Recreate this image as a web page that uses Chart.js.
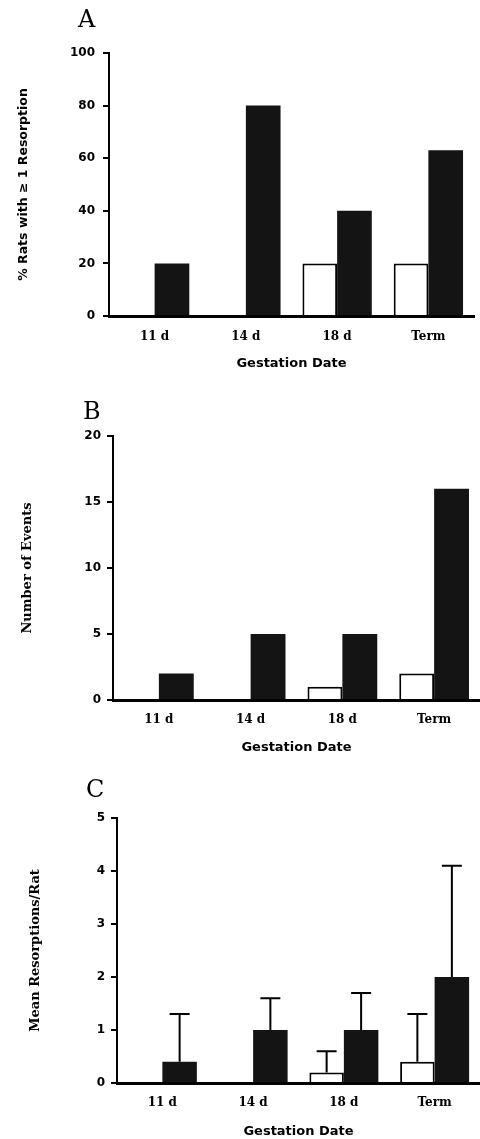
<!DOCTYPE html>
<html>
<head>
<meta charset="utf-8">
<script src="https://cdn.jsdelivr.net/npm/chart.js@4.4.0/dist/chart.umd.min.js"></script>
<style>
    body { margin: 0; background: #fff; width: 480px; height: 1139px; position: relative; overflow: hidden; }
    .panel { position: absolute; left: 0; width: 480px; }
    .panel canvas { display: block; }
    .letter { position: absolute; font-family: "DejaVu Serif"; font-size: 24px; line-height: 24px; color: #000; }
</style>
</head>
<body>
<div class="panel" style="top:0;height:380px"><canvas id="chartA" width="480" height="380"></canvas></div>
<div class="panel" style="top:380px;height:380px"><canvas id="chartB" width="480" height="380"></canvas></div>
<div class="panel" style="top:760px;height:379px"><canvas id="chartC" width="480" height="379"></canvas></div>
<div class="letter" style="left:78px;top:7px">A</div>
<div class="letter" style="left:83px;top:399px">B</div>
<div class="letter" style="left:86px;top:777px">C</div>

<script>
// dados
var gestation = ['11 d', '14 d', '18 d', 'Term'];

var ratsControl = [0, 0, 20, 20];
var ratsTreated = [20, 80, 40, 63];

var eventsControl = [0, 0, 1, 2];
var eventsTreated = [2, 5, 5, 16];

var meanControl = [0, 0, 0.2, 0.4];
var meanTreated = [0.4, 1.0, 1.0, 2.0];
var sdControl = [0, 0, 0.4, 0.9];
var sdTreated = [0.9, 0.6, 0.7, 2.1];

var ticksA = [0, 20, 40, 60, 80, 100];
var ticksB = [0, 5, 10, 15, 20];
var ticksC = [0, 1, 2, 3, 4, 5];

var sansBold = { family: 'DejaVu Sans', size: 12, weight: 'bold' };
var serifBold = { family: 'DejaVu Serif', size: 12, weight: 'bold' };

// barras de erro (só para cima)
var errorBars = {
    id: 'errorBars',
    afterDatasetsDraw: function (chart) {
        var ctx = chart.ctx;
        var y = chart.scales.y;
        [sdControl, sdTreated].forEach(function (sd, i) {
            var meta = chart.getDatasetMeta(i);
            meta.data.forEach(function (bar, j) {
                if (!sd[j]) return;
                var top = y.getPixelForValue(chart.data.datasets[i].data[j] + sd[j]);
                ctx.save();
                ctx.strokeStyle = '#000';
                ctx.lineWidth = 2;
                ctx.beginPath();
                ctx.moveTo(bar.x, bar.y);
                ctx.lineTo(bar.x, top);
                ctx.moveTo(bar.x - 10, top);
                ctx.lineTo(bar.x + 10, top);
                ctx.stroke();
                ctx.restore();
            });
        });
    }
};

function painel(id, control, treated, ticks, yTitle, yTitleFont, lay, plugins) {
    new Chart(document.getElementById(id), {
        type: 'bar',
        data: {
            labels: gestation,
            datasets: [{
                data: control,
                backgroundColor: '#fff',
                borderColor: '#000',
                borderWidth: 2
            }, {
                data: treated,
                backgroundColor: '#141414',
                borderWidth: 0
            }]
        },
        options: {
            responsive: false,
            animation: false,
            devicePixelRatio: 1,
            layout: { padding: { top: lay.top, right: lay.right, left: 0, bottom: 0 } },
            datasets: { bar: { categoryPercentage: 0.76, barPercentage: 1 } },
            plugins: { legend: { display: false }, tooltip: { enabled: false } },
            scales: {
                x: {
                    grid: { display: false, drawTicks: false },
                    border: { color: '#000', width: 3 },
                    ticks: { color: '#000', font: serifBold, padding: lay.xPad, maxRotation: 0 },
                    title: { display: true, text: 'Gestation Date', color: '#000', font: { family: 'DejaVu Sans', size: 13, weight: 'bold' }, padding: lay.xTitlePad },
                    afterFit: function (s) { s.height = lay.xHeight; }
                },
                y: {
                    min: ticks[0],
                    max: ticks[ticks.length - 1],
                    afterBuildTicks: function (s) { s.ticks = ticks.map(function (v) { return { value: v }; }); },
                    grid: { drawOnChartArea: false, drawTicks: true, tickLength: 6, color: '#000', lineWidth: 2 },
                    border: { color: '#000', width: 2 },
                    ticks: { color: '#000', font: sansBold, padding: lay.yPad },
                    title: { display: true, text: yTitle, color: '#000', font: yTitleFont, padding: lay.yTitlePad },
                    afterFit: function (s) { s.width = lay.left; }
                }
            }
        },
        plugins: plugins || []
    });
}

painel('chartA', ratsControl, ratsTreated, ticksA, '% Rats with \u2265 1 Resorption',
    { family: 'DejaVu Sans', size: 12.5, weight: 'bold' },
    { top: 53, right: 6, left: 109, xHeight: 64, xPad: 14, xTitlePad: 9, yPad: 8, yTitlePad: 16 });

painel('chartB', eventsControl, eventsTreated, ticksB, 'Number of Events',
    { family: 'DejaVu Serif', size: 13, weight: 'bold' },
    { top: 56, right: 0, left: 113, xHeight: 60, xPad: 13, xTitlePad: 5, yPad: 6, yTitlePad: 20 });

painel('chartC', meanControl, meanTreated, ticksC, 'Mean Resorptions/Rat',
    { family: 'DejaVu Serif', size: 13, weight: 'bold' },
    { top: 58, right: 0, left: 117, xHeight: 56, xPad: 13, xTitlePad: 0, yPad: 6, yTitlePad: 28 }, [errorBars]);
</script>
</body>
</html>
